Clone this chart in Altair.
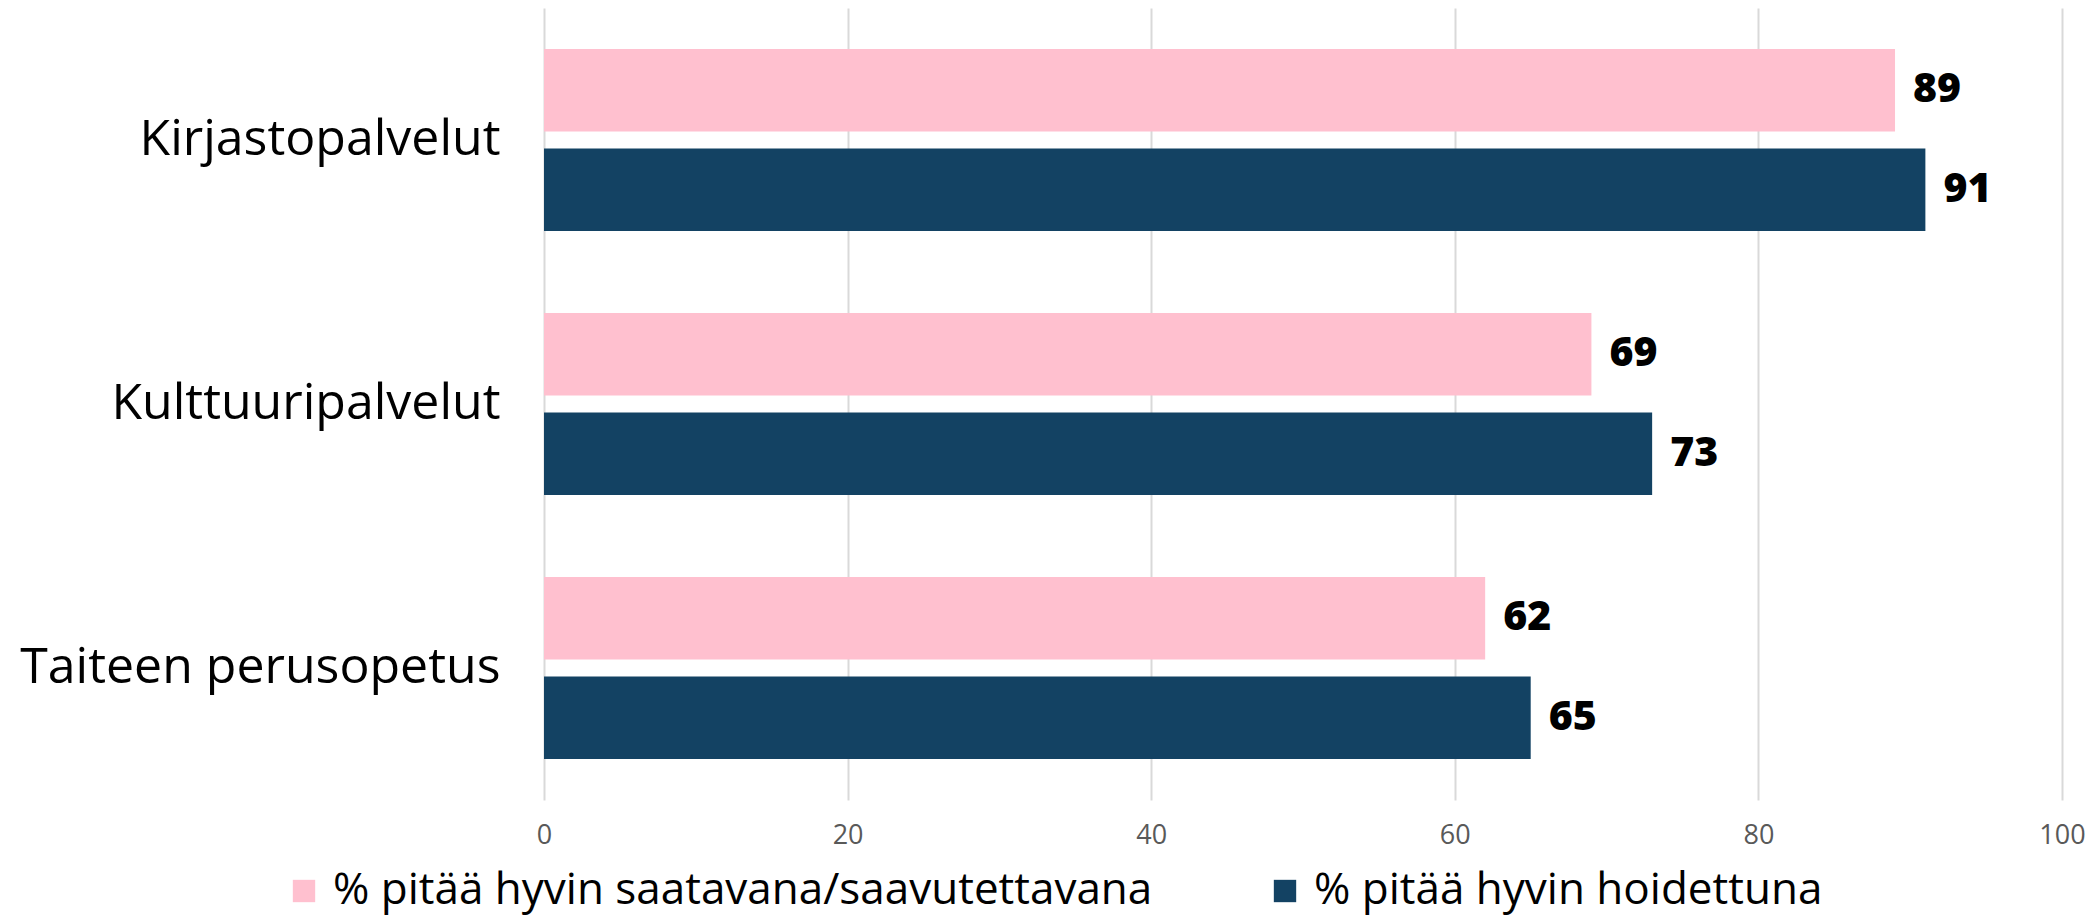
import altair as alt
import pandas as pd

categories = ["Kirjastopalvelut", "Kulttuuripalvelut", "Taiteen perusopetus"]
series = ["% pitää hyvin saatavana/saavutettavana", "% pitää hyvin hoidettuna"]
saatavana = [89, 69, 62]
hoidettuna = [91, 73, 65]
colors = ["#FFC0CF", "#134263"]
x_ticks = [0, 20, 40, 60, 80, 100]

rows = []
for c, a, b in zip(categories, saatavana, hoidettuna):
    rows.append({"cat": c, "series": series[0], "value": a})
    rows.append({"cat": c, "series": series[1], "value": b})
df = pd.DataFrame(rows)

FONT = "Open Sans"

y_enc = alt.Y("cat:N", sort=categories, title=None,
              scale=alt.Scale(paddingInner=0.31, paddingOuter=0.155),
              axis=alt.Axis(domain=False, ticks=False, labelPadding=44,
                            labelFontSize=50, labelFont=FONT, labelColor="#000000",
                            labelLimit=1000))
yoff_enc = alt.YOffset("series:N", sort=series,
                       scale=alt.Scale(paddingInner=0.17, paddingOuter=0))
x_enc = alt.X("value:Q", title=None,
              scale=alt.Scale(domain=[0, 100], nice=False),
              axis=alt.Axis(values=x_ticks, domain=False, ticks=False, labelPadding=22,
                            labelFontSize=27, labelFont=FONT, labelColor="#595959",
                            labelFlush=False,
                            grid=True, gridColor="#d9d9d9", gridWidth=2))

bars = alt.Chart(df).mark_bar().encode(
    y=y_enc,
    yOffset=yoff_enc,
    x=x_enc,
    color=alt.Color("series:N", sort=series,
                    scale=alt.Scale(domain=series, range=colors),
                    legend=alt.Legend(title=None, orient="none", direction="horizontal",
                                      legendX=-262, legendY=861,
                                      symbolType="square", symbolSize=500,
                                      symbolStrokeWidth=0,
                                      labelFontSize=44, labelFont=FONT,
                                      labelColor="#000000", labelOffset=7,
                                      labelLimit=2000, columnPadding=110, padding=0)),
)

labels = alt.Chart(df).mark_text(
    align="left", baseline="middle", dx=18, fontSize=41, fontWeight=800,
    font=FONT, color="#000000"
).encode(
    y=alt.Y("cat:N", sort=categories),
    yOffset=alt.YOffset("series:N", sort=series),
    x=alt.X("value:Q"),
    text=alt.Text("value:Q"),
)

chart = alt.layer(bars, labels).properties(
    width=1518, height=792,
    background="#ffffff",
    autosize=alt.AutoSizeParams(type="none"),
    padding={"left": 536, "top": 0, "right": 30, "bottom": 122},
).configure_view(stroke=None, strokeWidth=0)

chart.save("out.html", embed_options={"renderer": "svg", "actions": False})
